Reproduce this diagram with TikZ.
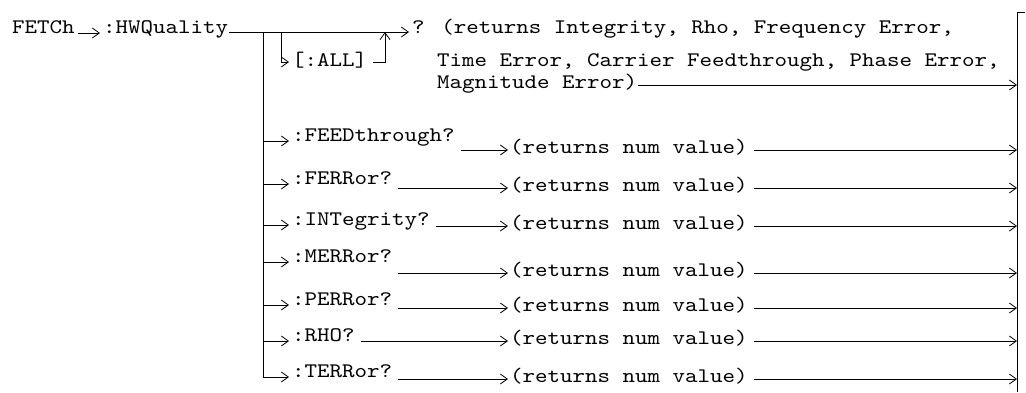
\documentclass[tikz,border=0pt]{standalone}
\usepackage{fontspec}
\newfontfamily\syntaxfont[FakeStretch=1.15]{lmmono10-regular.otf}
\usetikzlibrary{arrows.meta,calc}
\begin{document}
\begin{tikzpicture}[x=1pt,y=-1pt,
  txt/.style={anchor=base west,inner sep=0pt,font=\syntaxfont\fontsize{20.7}{24}\selectfont},
  conn/.style={line width=0.9pt},
  arr/.style={conn,-{Straight Barb[length=7pt,width=10pt,line width=0.8pt]}}]
\useasboundingbox (0,0) rectangle (1026,392);
% top
\node[txt] (fetch) at (12,33) {FETCh};
\node[txt] (hwq) at (103,33) {:HWQuality};
\node[txt] (q) at (412,33) {? (returns Integrity, Rho, Frequency Error,};
\node[txt] (ret2) at (437,66) {Time Error, Carrier Feedthrough, Phase Error,};
\node[txt] (ret3) at (437,88) {Magnitude Error)};
\node[txt] (all) at (292,66) {[:ALL]};
\coordinate (b1) at (263,32);
\coordinate (b2) at (281,32);
\coordinate (up) at (385,32);
\coordinate (bar) at (1017,12);
% rows: labels
\node[txt] (lF) at (292,141) {:FEEDthrough?};
\node[txt] (lE) at (292,184) {:FERRor?};
\node[txt] (lI) at (292,225) {:INTegrity?};
\node[txt] (lM) at (292,262) {:MERRor?};
\node[txt] (lP) at (292,305) {:PERRor?};
\node[txt] (lR) at (292,341) {:RHO?};
\node[txt] (lT) at (292,377) {:TERRor?};
% rows: returns
\node[txt] (rF) at (510,153) {(returns num value)};
\node[txt] (rE) at (510,191) {(returns num value)};
\node[txt] (rI) at (510,229) {(returns num value)};
\node[txt] (rM) at (510,276) {(returns num value)};
\node[txt] (rP) at (510,311) {(returns num value)};
\node[txt] (rR) at (510,344) {(returns num value)};
\node[txt] (rT) at (510,382) {(returns num value)};
% connectors top
\draw[arr] ([xshift=3pt]fetch.base east) -- ([xshift=-3pt]hwq.base west);
\draw[arr] ([xshift=1pt,yshift=1pt]hwq.base east) -- ([xshift=-3pt,yshift=1pt]q.base west);
\draw[arr] (b2) |- ([xshift=-3pt,yshift=4pt]all.base west);
\draw[arr] ([xshift=6pt,yshift=4pt]all.base east) -| (up);
\draw[arr] ([xshift=1pt,yshift=3pt]ret3.base east) -- ([yshift=3pt]ret3.base east -| bar);
\draw[conn] (bar |- 0,392) -- (bar) -- ++(8,0);
% branches
\draw[arr] (b1) |- ([xshift=-3pt]lT.base west);
\foreach \n in {lF,lE,lI,lM,lP,lR}
  \draw[arr] (b1 |- \n.base west) -- ([xshift=-3pt]\n.base west);
% label to returns, returns to bar
\foreach \a/\b in {lF/rF,lE/rE,lI/rI,lM/rM,lP/rP,lR/rR,lT/rT}{
  \draw[arr] ($(\a.base east |- \b.base west)+(6,-3)$) -- ([xshift=-2pt,yshift=3pt]\b.base west);
  \draw[arr] ([xshift=6pt,yshift=3pt]\b.base east) -- ([yshift=3pt]\b.base east -| bar);
}
\end{tikzpicture}
\end{document}
